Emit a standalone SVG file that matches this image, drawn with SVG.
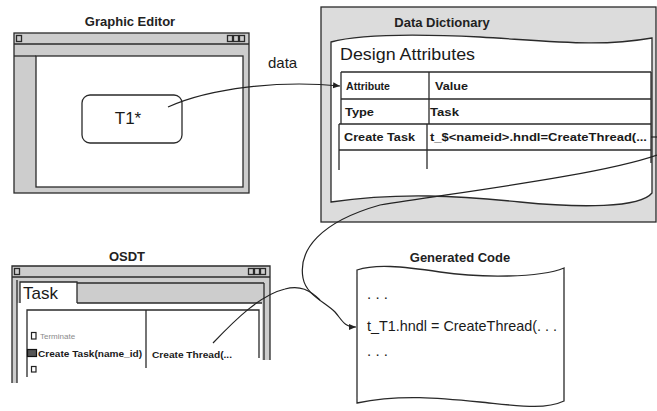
<svg xmlns="http://www.w3.org/2000/svg" width="657" height="411" viewBox="0 0 657 411">
<style>
.ln{fill:none;stroke:#2a2a2a;stroke-width:1.3}
.gr{fill:#cdcdcd;stroke:#2a2a2a;stroke-width:1.3}
.wh{fill:#ffffff;stroke:#2a2a2a;stroke-width:1.3}
.ttl{font-family:"Liberation Sans",Arial,sans-serif;font-weight:bold;font-size:13px;fill:#222;text-anchor:middle}
.t{font-family:"Liberation Sans",Arial,sans-serif;fill:#1a1a1a}
.tb{font-family:"Liberation Sans",Arial,sans-serif;font-weight:bold;fill:#1a1a1a}
.con{fill:none;stroke:#222;stroke-width:1.2}
</style>
<defs>
<marker id="ah" markerWidth="8" markerHeight="8" refX="7" refY="4" orient="auto" markerUnits="userSpaceOnUse">
<path d="M0,1 L7,4 L0,7 Z" fill="#222"/>
</marker>
</defs>

<g id="graphic-editor">
<text class="ttl" x="130" y="26">Graphic Editor</text>
<rect class="gr" x="14" y="33" width="235" height="160"/>
<line class="ln" x1="14" y1="44" x2="249" y2="44"/>
<rect class="ln" x="16.5" y="35.5" width="5" height="6" stroke-width="1"/>
<rect class="ln" x="227.5" y="35.5" width="5" height="6" stroke-width="1"/>
<rect class="ln" x="233.5" y="35.5" width="5" height="6" stroke-width="1"/>
<rect class="ln" x="239.5" y="35.5" width="5" height="6" stroke-width="1"/>
<line class="ln" x1="14" y1="56" x2="36" y2="56"/>
<rect class="wh" x="36" y="56" width="207" height="131"/>
<rect class="wh" x="82" y="95" width="100" height="48" rx="8" ry="8"/>
<text class="t" x="128" y="124" font-size="17" text-anchor="middle">T1*</text>
</g>

<g id="data-dictionary">
<rect x="321" y="7" width="335" height="215" fill="#dcdcdc" stroke="#2a2a2a" stroke-width="1.3"/>
<text class="ttl" x="442" y="27">Data Dictionary</text>
<path class="wh" d="M331,42 C360,34 420,34 480,37 C560,42 600,47 652,38 L652,193 C640,208 580,208 520,202 C460,196 400,192 331,202 Z"/>
<text class="t" x="340" y="60" font-size="17" textLength="135" lengthAdjust="spacingAndGlyphs">Design Attributes</text>
<g class="ln">
<line x1="341" y1="72" x2="651" y2="72"/>
<line x1="341" y1="99" x2="651" y2="99"/>
<line x1="339" y1="124" x2="651" y2="124"/>
<line x1="339" y1="150" x2="651" y2="150"/>
<line x1="341" y1="72" x2="341" y2="124"/>
<line x1="339" y1="124" x2="339" y2="170"/>
<line x1="429" y1="72" x2="429" y2="124"/>
<line x1="427" y1="124" x2="427" y2="169"/>
<line x1="651" y1="72" x2="651" y2="163"/>
</g>
<text class="tb" x="346" y="90" font-size="10" textLength="44" lengthAdjust="spacingAndGlyphs">Attribute</text>
<text class="tb" x="435" y="90" font-size="10" textLength="33" lengthAdjust="spacingAndGlyphs">Value</text>
<text class="tb" x="345" y="116" font-size="10.5" textLength="29" lengthAdjust="spacingAndGlyphs">Type</text>
<text class="tb" x="430" y="116" font-size="10.5" textLength="29" lengthAdjust="spacingAndGlyphs">Task</text>
<text class="tb" x="344" y="141" font-size="10.5" textLength="71" lengthAdjust="spacingAndGlyphs">Create Task</text>
<text class="tb" x="430" y="141" font-size="10.5" textLength="217" lengthAdjust="spacingAndGlyphs">t_$&lt;nameid&gt;.hndl=CreateThread(...</text>
</g>

<g id="osdt">
<text class="ttl" x="127" y="261">OSDT</text>
<path d="M12,383 L12,266 L270,266 L270,360 L262,360 L262,303 L17,303 L17,383 Z" fill="#cdcdcd"/>
<path class="ln" d="M12,383 L12,266 L270,266 L270,360"/>
<line class="ln" x1="12" y1="277" x2="270" y2="277"/>
<rect class="ln" x="14.5" y="268.5" width="5" height="6" stroke-width="1"/>
<rect class="ln" x="248.5" y="268.5" width="5" height="6" stroke-width="1"/>
<rect class="ln" x="254.5" y="268.5" width="5" height="6" stroke-width="1"/>
<rect class="ln" x="260.5" y="268.5" width="5" height="6" stroke-width="1"/>
<rect x="17" y="303" width="245" height="80" fill="#ffffff"/>
<line class="ln" x1="17" y1="280" x2="17" y2="383"/>
<path d="M20,303 L20,282 L77,282 L77,303" fill="#ffffff" stroke="#2a2a2a" stroke-width="1.3"/>
<line class="ln" x1="77" y1="283" x2="264" y2="283"/>
<line class="ln" x1="77" y1="303" x2="262" y2="303"/>
<line class="ln" x1="264" y1="283" x2="264" y2="360"/>
<text class="t" x="23" y="299" font-size="17">Task</text>
<path class="ln" d="M27,377 L27,310 L259,310 L259,358"/>
<line class="ln" x1="146" y1="310" x2="146" y2="368"/>
<rect x="31.5" y="332.5" width="4.5" height="6.5" fill="#fff" stroke="#222" stroke-width="1.2"/>
<text class="t" x="40" y="339" font-size="8" style="fill:#8a8a8a">Terminate</text>
<rect x="27.5" y="349.5" width="9" height="7" fill="#555" stroke="#111" stroke-width="1.2"/>
<text class="tb" x="38" y="357" font-size="9.5" textLength="104" lengthAdjust="spacingAndGlyphs">Create Task(name_id)</text>
<rect x="31.5" y="366.5" width="4.5" height="5.5" fill="#fff" stroke="#222" stroke-width="1.2"/>
<text class="tb" x="152" y="358" font-size="9" textLength="80" lengthAdjust="spacingAndGlyphs">Create Thread(...</text>
</g>

<g id="generated-code">
<text class="ttl" x="460" y="262">Generated Code</text>
<path class="wh" d="M357,270 C375,264 400,266 440,272 C480,278 540,278 564,268 L564,401 C545,410 520,406 480,402 C440,398 400,394 357,403 Z"/>
<text class="t" x="367" y="299" font-size="15" textLength="21" lengthAdjust="spacing">. . .</text>
<text class="t" x="367" y="331" font-size="15" textLength="190" lengthAdjust="spacingAndGlyphs">t_T1.hndl = CreateThread(. . .</text>
<text class="t" x="367" y="356" font-size="15" textLength="21" lengthAdjust="spacing">. . .</text>
</g>

<g id="connectors">
<path class="con" d="M168,107 C210,88 280,80 340,86" marker-end="url(#ah)"/>
<text class="t" x="268" y="68" font-size="15">data</text>
<line class="con" x1="651" y1="137" x2="657" y2="137"/>
<path class="con" d="M657,155 C600,175 460,192 380,205 C320,222 298,250 303,278 C306,295 325,302 335,312 C342,320 344,327 356,327" marker-end="url(#ah)"/>
<path class="con" d="M213,343 C235,320 260,295 285,289 C300,285 310,290 320,300"/>
</g>
</svg>
